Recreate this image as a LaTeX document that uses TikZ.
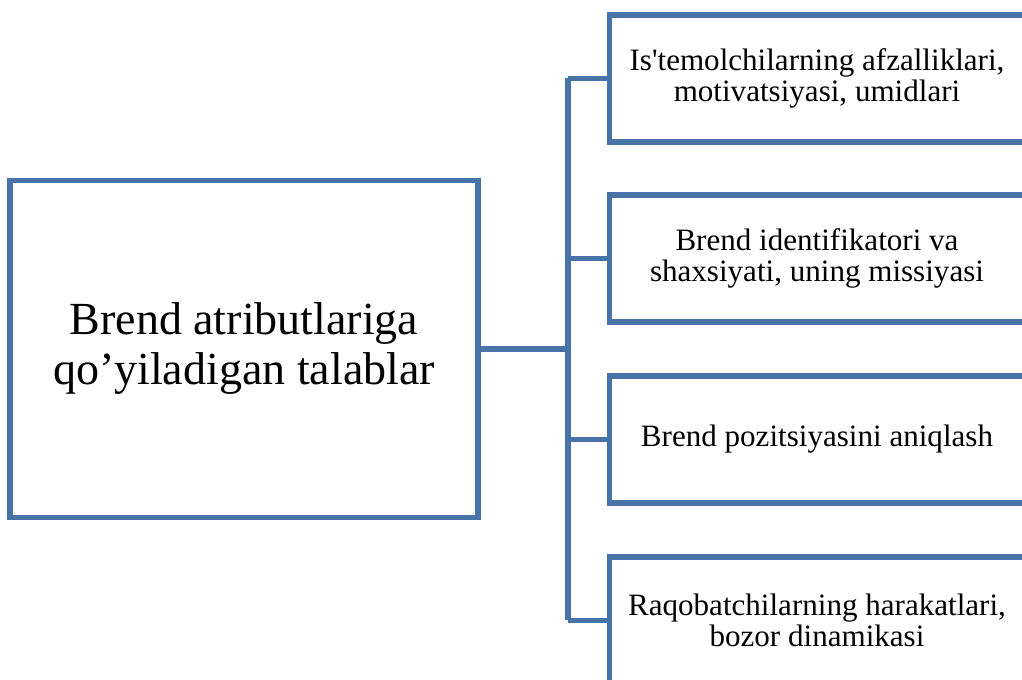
\documentclass[tikz,border=0pt]{standalone}
\usepackage{fontspec}
\setmainfont{Liberation Serif}
\usetikzlibrary{calc,positioning}
\definecolor{framblue}{RGB}{72,115,168}

\begin{document}
\begin{tikzpicture}[x=0.75pt,y=-0.75pt,
    frame/.style={draw=framblue,line width=4.2pt,rectangle,align=center,
      inner sep=0pt},
    mainbox/.style={frame,minimum width=351pt,minimum height=253pt,
      font=\fontsize{34.5}{37.5}\selectfont},
    itembox/.style={frame,minimum width=311pt,minimum height=95pt,
      font=\fontsize{23.3}{23.7}\selectfont},
    link/.style={draw=framblue,line width=4.2pt}]
  \clip (0,0) rectangle (1022,680);
  \node[mainbox] (main) at (244,349)
    {\raisebox{-3pt}{Brend atributlariga}\\\raisebox{-3pt}{qo’yiladigan talablar}};
  \coordinate (trunk) at (568,0);
  \node[itembox] (r1) at (817,78.5)
    {Is\textquotesingle temolchilarning afzalliklari,\\motivatsiyasi, umidlari};
  \node[itembox] (r2) at (817,258.5)
    {Brend identifikatori va\\shaxsiyati, uning missiyasi};
  \node[itembox] (r3) at (817,439.5)
    {Brend pozitsiyasini aniqlash};
  \node[itembox] (r4) at (817,620.5)
    {Raqobatchilarning harakatlari,\\bozor dinamikasi};
  \draw[link] (main.east) -- (main.east -| trunk);
  \draw[link] (r1.west -| trunk) -- (r4.west -| trunk);
  \foreach \i in {1,...,4}
    \draw[link] (r\i.west -| trunk) -- (r\i.west);
\end{tikzpicture}
\end{document}
